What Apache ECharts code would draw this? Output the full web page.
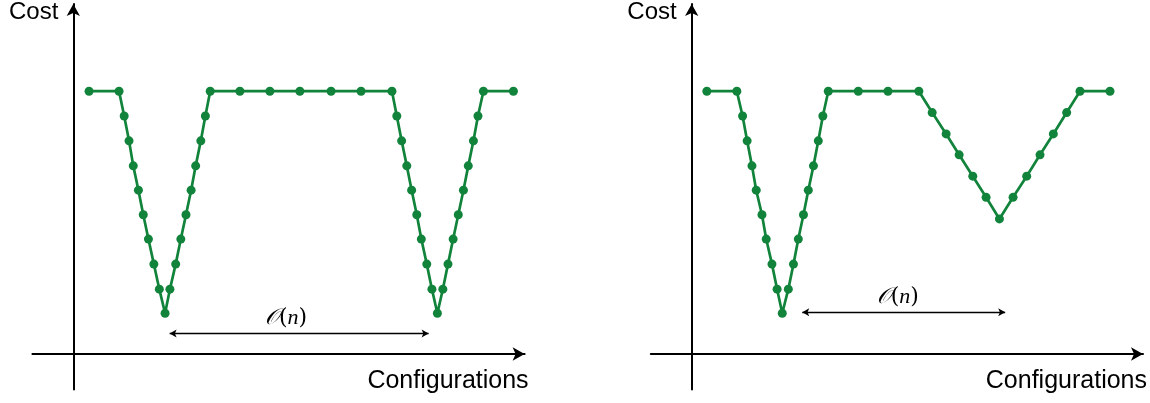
<!DOCTYPE html>
<html><head><meta charset="utf-8">
<script src="https://cdn.jsdelivr.net/npm/echarts@6/dist/echarts.min.js"></script>
<style>html,body{margin:0;padding:0;background:#fff}#c{width:1150px;height:403px}</style>
</head><body><div id="c"></div>
<script>
// ---- data (units; axes cross at 0,0) ----
const leftX = [0.52, 1.51, 1.68, 1.84, 1.98, 2.15, 2.31, 2.48, 2.66, 2.84, 3.03, 3.19, 3.38, 3.55, 3.72, 3.89, 4.04, 4.21, 4.36, 4.52,
  5.5, 6.49, 7.48, 8.51, 9.5, 10.52, 10.68, 10.84, 11.01, 11.17, 11.34, 11.49, 11.67, 11.84, 12.02,
  12.2, 12.37, 12.54, 12.71, 12.88, 13.04, 13.21, 13.36, 13.54, 14.53];
const leftCost = [10.7, 10.7, 9.69, 8.68, 7.66, 6.67, 5.67, 4.68, 3.66, 2.64, 1.66, 2.64, 3.66, 4.68, 5.67, 6.67, 7.66, 8.68, 9.69, 10.7,
  10.7, 10.7, 10.7, 10.7, 10.7, 10.7, 9.69, 8.68, 7.66, 6.67, 5.67, 4.68, 3.66, 2.64, 1.66,
  2.64, 3.66, 4.68, 5.67, 6.67, 7.66, 8.68, 9.69, 10.7, 10.7];
const rightX = [0.5, 1.49, 1.68, 1.83, 1.99, 2.13, 2.32, 2.46, 2.65, 2.82, 2.99, 3.19, 3.36, 3.52, 3.69, 3.85, 4.02, 4.18, 4.33, 4.51,
  5.5, 6.48, 7.5, 7.94, 8.4, 8.83, 9.28, 9.72, 10.16, 10.61, 11.06, 11.5, 11.94, 12.38, 12.82, 13.81];
const rightCost = [10.7, 10.7, 9.69, 8.68, 7.66, 6.67, 5.67, 4.68, 3.66, 2.64, 1.66, 2.64, 3.66, 4.68, 5.67, 6.67, 7.66, 8.68, 9.69, 10.7,
  10.7, 10.7, 10.7, 9.83, 8.96, 8.11, 7.24, 6.38, 5.5, 6.38, 7.24, 8.11, 8.96, 9.83, 10.7, 10.7];
const xName = 'Configurations';
const yName = 'Cost';
const spanText = '{o|𝒪}({n|n})';
const leftSpan = [[3.18, 0.84], [11.73, 0.84]];
const rightSpan = [[3.65, 1.70], [10.35, 1.70]];
const xRange = [-1.35, 14.9];
const yRange = [-1.44, 14.25];

// ---- layout ----
const UX = 30.29, UY = 24.58;
const gridW = (xRange[1] - xRange[0]) * UX;
const gridH = (yRange[1] - yRange[0]) * UY;
const gridTop = 354 - yRange[1] * UY;
const origins = [73.3, 691.7];
const GREEN = '#11833b';

function axisLine() {
  return { show: true, onZero: true, symbol: ['none', 'arrow'], symbolSize: [10, 12],
    lineStyle: { color: '#000', width: 2 } };
}
const grids = origins.map(ox => ({ left: ox + xRange[0] * UX, top: gridTop, width: gridW, height: gridH }));
const xAxes = origins.map((ox, i) => ({
  type: 'value', gridIndex: i, min: xRange[0], max: xRange[1],
  axisLine: axisLine(), axisTick: { show: false }, axisLabel: { show: false }, splitLine: { show: false },
  name: xName, nameLocation: 'end', nameGap: 4,
  nameTextStyle: { align: 'right', verticalAlign: 'top', padding: [15, 0, 0, 0], fontSize: 25,
    fontFamily: 'Liberation Sans, Arial, sans-serif', color: '#000' }
}));
const yAxes = origins.map((ox, i) => ({
  type: 'value', gridIndex: i, min: yRange[0], max: yRange[1],
  axisLine: axisLine(), axisTick: { show: false }, axisLabel: { show: false }, splitLine: { show: false },
  name: yName, nameLocation: 'end', nameGap: -8,
  nameTextStyle: { align: 'right', verticalAlign: 'middle', padding: [0, 15, 0, 0], fontSize: 24,
    fontFamily: 'Liberation Sans, Arial, sans-serif', color: '#000' }
}));

function span(pts, pad) {
  return {
    silent: true, symbol: ['arrow', 'arrow'], symbolSize: [6, 7],
    lineStyle: { color: '#000', width: 1.3, type: 'solid' },
    label: { show: true, position: 'middle', formatter: spanText, distance: 4, padding: [0, pad, 0, 0],
      color: '#000', fontSize: 22, fontFamily: 'DejaVu Serif, Liberation Serif, serif',
      rich: { o: { fontSize: 22, fontStyle: 'italic', fontFamily: 'DejaVu Serif, Liberation Serif, serif', color: '#000' },
              n: { fontSize: 22, fontStyle: 'italic', fontFamily: 'Liberation Serif, serif', color: '#000' } } },
    emphasis: { disabled: true },
    data: [[{ coord: pts[0] }, { coord: pts[1] }]]
  };
}
const series = [
  { x: leftX, y: leftCost, sp: leftSpan, pad: 26 },
  { x: rightX, y: rightCost, sp: rightSpan, pad: 12 }
].map((s, i) => ({
  type: 'line', xAxisIndex: i, yAxisIndex: i,
  data: s.x.map((v, k) => [v, s.y[k]]),
  symbol: 'circle', symbolSize: 9, showSymbol: true,
  lineStyle: { color: GREEN, width: 2.7 }, itemStyle: { color: GREEN },
  silent: true, animation: false,
  markLine: span(s.sp, s.pad)
}));

const chart = echarts.init(document.getElementById('c'), null, { renderer: 'canvas' });
chart.setOption({ animation: false, backgroundColor: '#fff', grid: grids, xAxis: xAxes, yAxis: yAxes, series });
</script></body></html>
